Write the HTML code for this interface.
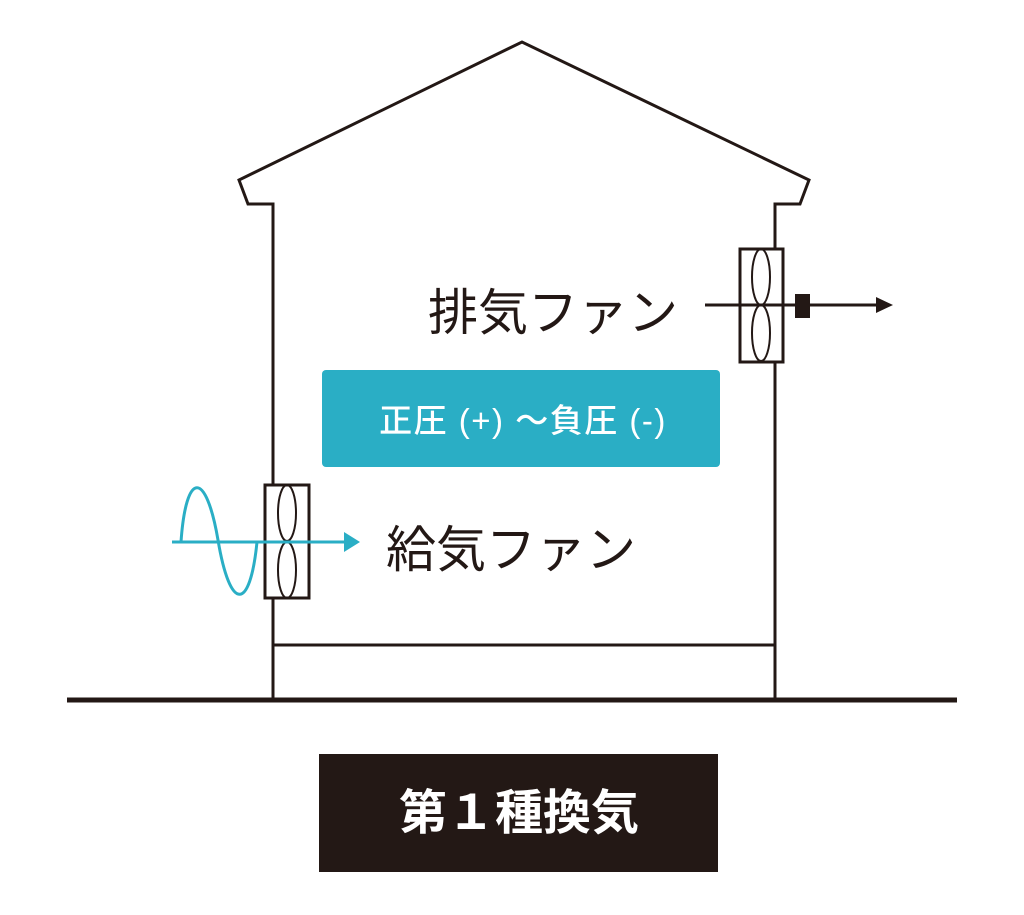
<!DOCTYPE html>
<html><head><meta charset="utf-8"><style>
html,body{margin:0;padding:0;background:#fff;}
svg{display:block}
text{font-family:"Liberation Sans","Noto Sans CJK JP",sans-serif;}
</style></head><body>
<svg width="1024" height="915" viewBox="0 0 1024 915" xmlns="http://www.w3.org/2000/svg">
<rect width="1024" height="915" fill="#fff"/>
<g fill="none" stroke="#231815" stroke-width="3">
<polyline points="273,698 273,204 248,204 239,180 522,42 809,180 800,204 775,204 775,698"/>
<line x1="273" y1="645" x2="775" y2="645"/>
</g>
<line x1="67" y1="700" x2="957" y2="700" stroke="#231815" stroke-width="5"/>
<rect x="740" y="249" width="43" height="113" fill="#fff" stroke="#231815" stroke-width="3"/>
<ellipse cx="761" cy="277" rx="9" ry="28" fill="none" stroke="#231815" stroke-width="2"/>
<ellipse cx="761" cy="333" rx="9" ry="28" fill="none" stroke="#231815" stroke-width="2"/>
<line x1="705" y1="305" x2="878" y2="305" stroke="#231815" stroke-width="3"/>
<polygon points="876,297 893,305 876,313" fill="#231815"/>
<rect x="795" y="294" width="15" height="24" fill="#231815"/>
<rect x="265" y="485" width="44" height="113" fill="#fff" stroke="#231815" stroke-width="3"/>
<ellipse cx="287" cy="513" rx="9" ry="28" fill="none" stroke="#231815" stroke-width="2"/>
<ellipse cx="287" cy="570" rx="9" ry="28" fill="none" stroke="#231815" stroke-width="2"/>
<path d="M181,542 C186,470 206,470 218,540 C230,612 250,612 257,542" fill="none" stroke="#2aaec5" stroke-width="3"/>
<line x1="172" y1="542" x2="345" y2="542" stroke="#2aaec5" stroke-width="3"/>
<polygon points="344,532 360,542 344,552" fill="#2aaec5"/>
<text x="428" y="330" font-size="50" fill="#231815">排気ファン</text>
<text x="386" y="567" font-size="50" fill="#231815">給気ファン</text>
<rect x="322" y="370" width="398" height="97" rx="4" fill="#2aaec5"/>
<text x="523" y="432" font-size="33" fill="#fff" text-anchor="middle" font-weight="500" letter-spacing="1.5">正圧 (+) ～負圧 (-)</text>
<rect x="319" y="754" width="399" height="118" fill="#231815"/>
<text x="519" y="829" font-size="48" fill="#fff" text-anchor="middle" font-weight="bold">第１種換気</text>
</svg>
</body></html>
